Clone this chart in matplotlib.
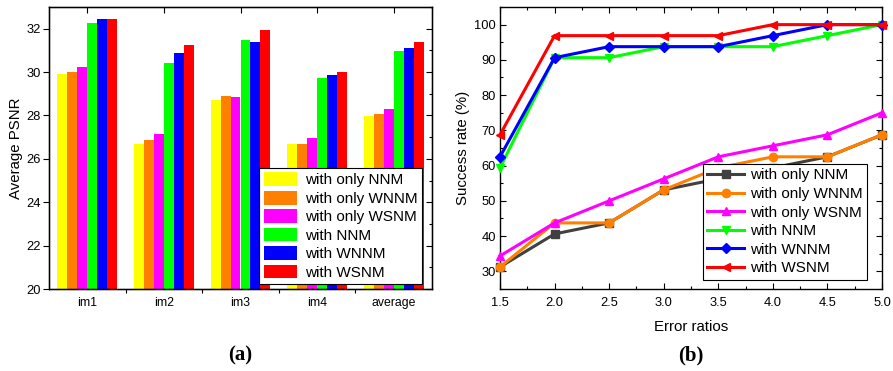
import numpy as np
import matplotlib
matplotlib.use("Agg")
import matplotlib.pyplot as plt
from matplotlib.ticker import MultipleLocator, FixedLocator, FormatStrFormatter

plt.rcParams['font.family'] = ['Liberation Sans', 'DejaVu Sans']

# ---- data: bar chart (a) ----
images = ["im1", "im2", "im3", "im4", "average"]
methods = ["with only NNM", "with only WNNM", "with only WSNM",
           "with NNM", "with WNNM", "with WSNM"]
psnr_only_nnm = [29.91, 26.69, 28.69, 26.69, 27.98]
psnr_only_wnnm = [30.00, 26.87, 28.89, 26.69, 28.09]
psnr_only_wsnm = [30.22, 27.16, 28.84, 26.98, 28.29]
psnr_nnm = [32.27, 30.40, 31.47, 29.74, 30.98]
psnr_wnnm = [32.43, 30.89, 31.37, 29.85, 31.12]
psnr_wsnm = [32.43, 31.24, 31.95, 30.00, 31.40]

# ---- data: success rate (b) ----
error_ratios = [1.5, 2.0, 2.5, 3.0, 3.5, 4.0, 4.5, 5.0]
sr_only_nnm = [31.25, 40.625, 43.75, 53.125, 56.25, 59.375, 62.5, 68.75]
sr_only_wnnm = [31.25, 43.75, 43.75, 53.125, 59.375, 62.5, 62.5, 68.75]
sr_only_wsnm = [34.375, 43.75, 50.0, 56.25, 62.5, 65.625, 68.75, 75.0]
sr_nnm = [59.375, 90.625, 90.625, 93.75, 93.75, 93.75, 96.875, 100.0]
sr_wnnm = [62.5, 90.625, 93.75, 93.75, 93.75, 96.875, 100.0, 100.0]
sr_wsnm = [68.75, 96.875, 96.875, 96.875, 96.875, 100.0, 100.0, 100.0]

bar_series = [psnr_only_nnm, psnr_only_wnnm, psnr_only_wsnm,
              psnr_nnm, psnr_wnnm, psnr_wsnm]
bar_colors = ["#FFFF00", "#FF8000", "#FF00FF", "#00FF00", "#0000FF", "#FF0000"]

line_series = [sr_only_nnm, sr_only_wnnm, sr_only_wsnm, sr_nnm, sr_wnnm, sr_wsnm]
line_colors = ["#404040", "#FF8000", "#FF00FF", "#00FF00", "#0000FF", "#FF0000"]
line_markers = ["s", "o", "^", "v", "D", "<"]

fig = plt.figure(figsize=(8.93, 3.71), dpi=100)
W, H = 893, 371

def axes_px(x0, x1, ytop, ybot):
    return fig.add_axes([x0 / W, 1 - ybot / H, (x1 - x0) / W, (ybot - ytop) / H])

tick_fs = 9.3
label_fs = 10.8
legend_fs = 11

# ---------------- (a) grouped bars ----------------
ax1 = axes_px(49, 432, 7, 289)
x = np.arange(len(images))
bw = 0.13
for i, (vals, col, lab) in enumerate(zip(bar_series, bar_colors, methods)):
    ax1.bar(x + (i - 2.5) * bw, vals, width=bw, color=col, label=lab,
            edgecolor="none", linewidth=0)
ax1.set_xlim(-0.5, len(images) - 0.5)
ax1.set_ylim(20, 33)
ax1.yaxis.set_major_locator(MultipleLocator(2))
ax1.set_xticks(x)
ax1.set_xticklabels(images, fontsize=tick_fs - 0.5)
ax1.xaxis.set_minor_locator(FixedLocator(np.arange(0.5, len(images) - 1, 1.0)))
ax1.tick_params(axis="x", which="major", length=0, pad=6)
ax1.tick_params(axis="x", which="minor", direction="out", length=3, width=0.8)
ax1.tick_params(axis="y", which="major", direction="out", length=4, width=0.8,
                labelsize=tick_fs, pad=2)
for s in ax1.spines.values():
    s.set_linewidth(1.0)
ax1.set_ylabel("Average PSNR", fontsize=label_fs, labelpad=2)

# right-hand and top ticks of (a)
ax1r = ax1.twinx()
ax1r.set_ylim(ax1.get_ylim())
ax1r.yaxis.set_major_locator(MultipleLocator(2))
ax1r.yaxis.set_minor_locator(MultipleLocator(1))
ax1r.tick_params(axis="y", which="both", direction="in", labelright=False)
ax1r.tick_params(axis="y", which="major", length=4, width=0.8)
ax1r.tick_params(axis="y", which="minor", length=2.5, width=0.8)
ax1t = ax1.twiny()
ax1t.set_xlim(ax1.get_xlim())
ax1t.set_xticks(x)
ax1t.tick_params(axis="x", direction="in", length=4, width=0.8, labeltop=False)

leg1 = ax1.legend(loc="lower right", bbox_to_anchor=(0.974, 0.017), fontsize=legend_fs,
                  frameon=True, fancybox=False, edgecolor="black", framealpha=1,
                  handlelength=2.2, handleheight=1.0, labelspacing=0.22,
                  handletextpad=0.5, borderpad=0.3, borderaxespad=0)
leg1.get_frame().set_linewidth(0.8)
leg1.set_zorder(10)

# ---------------- (b) success rate lines ----------------
ax2 = axes_px(500, 882, 7, 289)
for vals, col, mk, lab in zip(line_series, line_colors, line_markers, methods):
    ax2.plot(error_ratios, vals, color=col, marker=mk, label=lab, linewidth=2.2,
             markersize=6 if mk != "D" else 5, markeredgecolor=col,
             markerfacecolor=col, clip_on=False, zorder=3)
ax2.set_xlim(1.5, 5.0)
ax2.set_ylim(25, 105)
ax2.xaxis.set_major_locator(MultipleLocator(0.5))
ax2.xaxis.set_minor_locator(MultipleLocator(0.25))
ax2.yaxis.set_major_locator(MultipleLocator(10))
ax2.yaxis.set_minor_locator(MultipleLocator(5))
ax2.xaxis.set_major_formatter(FormatStrFormatter("%.1f"))
ax2.tick_params(which="both", direction="in", top=True, right=True,
                labelsize=tick_fs, width=0.8)
ax2.tick_params(which="major", length=4)
ax2.tick_params(which="minor", length=2.5)
ax2.tick_params(axis="x", pad=6)
ax2.tick_params(axis="y", pad=3)
for s in ax2.spines.values():
    s.set_linewidth(1.0)
ax2.set_ylabel("Success rate (%)", fontsize=label_fs, labelpad=3)
ax2.set_xlabel("Error ratios", fontsize=label_fs, labelpad=8)

leg2 = ax2.legend(loc="lower right", bbox_to_anchor=(0.962, 0.032), fontsize=legend_fs,
                  frameon=True, fancybox=False, edgecolor="black", framealpha=1,
                  handlelength=2.4, labelspacing=0.3, handletextpad=0.4,
                  borderpad=0.3, borderaxespad=0)
leg2.get_frame().set_linewidth(0.8)
leg2.set_zorder(10)

# panel captions
fig.text(240 / W, 1 - 355 / H, "(a)", ha="center", va="center",
         fontsize=15, fontweight="bold", family="Liberation Serif")
fig.text(691 / W, 1 - 355 / H, "(b)", ha="center", va="center",
         fontsize=15, fontweight="bold", family="Liberation Serif")

fig.savefig("out.png", dpi=100)
